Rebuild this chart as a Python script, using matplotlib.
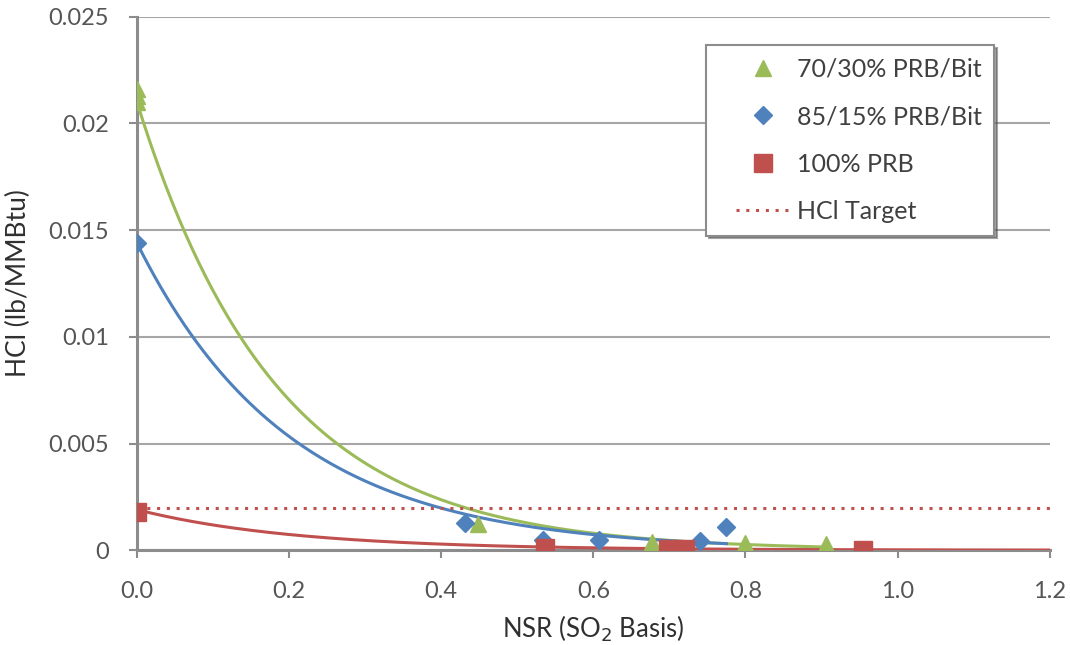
import numpy as np
import matplotlib
matplotlib.use("Agg")
import matplotlib.pyplot as plt
from matplotlib.lines import Line2D
from matplotlib.legend_handler import HandlerLine2D

# ---- Daten ----
x_7030 = [0.0, 0.0, 0.0, 0.448, 0.677, 0.800, 0.906]
y_7030 = [0.0216, 0.0213, 0.0210, 0.00122, 0.00040, 0.00035, 0.00030]

x_8515 = [0.0, 0.431, 0.534, 0.608, 0.740, 0.775]
y_8515 = [0.0144, 0.00127, 0.00050, 0.00047, 0.00045, 0.00110]

x_100 = [0.0, 0.536, 0.698, 0.720, 0.954]
y_100 = [0.0018, 0.00010, 0.00006, 0.00004, 0.00003]

# exponentielle Trendlinien y = a * exp(-b * x)
trend_a = [0.0210, 0.0144, 0.0019]
trend_b = [5.46, 4.97, 4.75]
trend_end = [0.906, 0.775, 1.2]

hcl_target = 0.002

x_ticks = [0.0, 0.2, 0.4, 0.6, 0.8, 1.0, 1.2]
y_ticks = [0, 0.005, 0.01, 0.015, 0.02, 0.025]
y_ticklabels = ["0", "0.005", "0.01", "0.015", "0.02", "0.025"]

green = "#9BBB59"
blue = "#4F81BD"
red = "#C0504D"
grau = "#8C8C8C"

plt.rcParams["font.family"] = ["Lato", "DejaVu Sans"]

fig = plt.figure(figsize=(10.7, 6.45), dpi=100)
ax = fig.add_axes([0.128, 0.147, 0.853, 0.827])

for a, b, x_end, c in zip(trend_a, trend_b, trend_end, [green, blue, red]):
    xs = np.linspace(0, x_end, 200)
    ax.plot(xs, a * np.exp(-b * xs), color=c, lw=2.2, zorder=3)

ax.axhline(hcl_target, color=red, ls=(0, (1, 2.2)), lw=2.2, zorder=3, label="HCl Target")

ax.plot(x_7030, y_7030, "^", color=green, ms=12, ls="none", zorder=4, label="70/30% PRB/Bit")
ax.plot(x_8515, y_8515, "D", color=blue, ms=9, ls="none", zorder=4, label="85/15% PRB/Bit")
ax.plot(x_100, y_100, "s", color=red, ms=13, ls="none", zorder=4, label="100% PRB")

ax.set_xlim(0, 1.2)
ax.set_ylim(0, 0.025)
ax.set_xticks(x_ticks)
ax.set_xticklabels([f"{t:.1f}" for t in x_ticks])
ax.set_yticks(y_ticks)
ax.set_yticklabels(y_ticklabels)
ax.yaxis.grid(True, color="#A6A6A6", lw=1.5)
ax.set_axisbelow(True)
for s in ["top", "right"]:
    ax.spines[s].set_visible(False)
for s in ["left", "bottom"]:
    ax.spines[s].set_color(grau)
    ax.spines[s].set_linewidth(2.2)
ax.tick_params(colors=grau, width=1.5, length=6, labelcolor="#555555", labelsize=17)
ax.tick_params(axis="y", pad=14)
ax.tick_params(axis="x", pad=16)

ax.set_xlabel("NSR (SO$_2$ Basis)", fontsize=18.5, color="#303030")
ax.set_ylabel("HCl (lb/MMBtu)", fontsize=19, color="#303030")
ax.xaxis.set_label_coords(0.5, -0.118)
ax.yaxis.set_label_coords(-0.116, 0.5)

h, l = ax.get_legend_handles_labels()
order = [1, 2, 3, 0]
leg = ax.legend([h[i] for i in order], [l[i] for i in order],
                loc="upper left", bbox_to_anchor=(0.624, 0.947),
                fontsize=18, frameon=True, fancybox=False, shadow=True,
                borderpad=0.5, labelspacing=0.98, handlelength=2.8,
                handletextpad=0.32, borderaxespad=0, numpoints=1,
                handler_map={Line2D: HandlerLine2D(xpad=0.7)})
leg.get_frame().set_edgecolor(grau)
leg.get_frame().set_linewidth(1.5)
for t in leg.get_texts():
    t.set_color("#404040")

fig.savefig("out.png", dpi=100)
